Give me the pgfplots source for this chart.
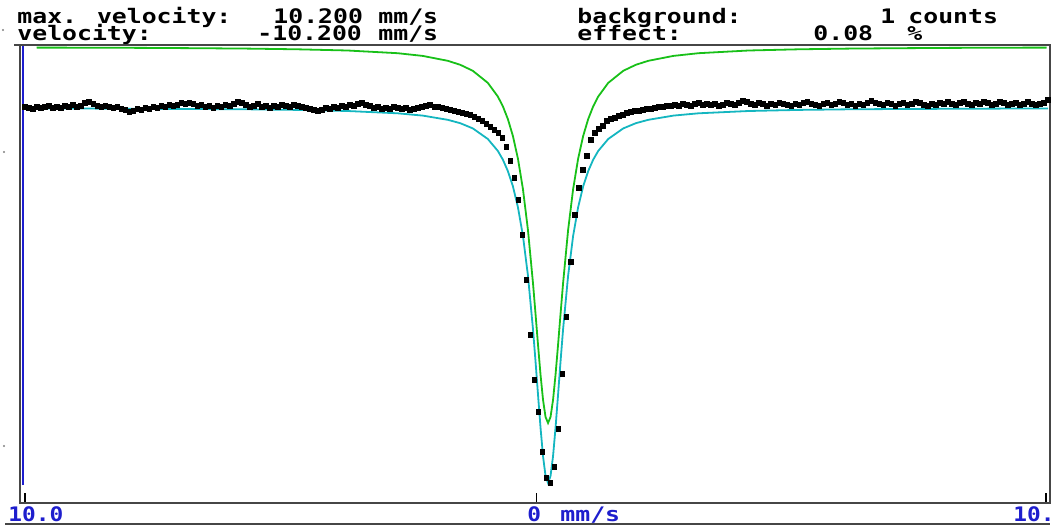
\documentclass[border=0pt]{standalone}
\usepackage{fontspec}
\usepackage{pgfplots}
\usepackage{pgfplotstable}
\pgfplotsset{compat=1.18}
\newfontfamily\pix{DejaVu Sans Mono}[FakeStretch=1.24]
\newfontfamily\pixb{DejaVu Sans Mono}[FakeStretch=1.14]
\definecolor{fitcyan}{RGB}{20,182,192}
\definecolor{fitgreen}{RGB}{24,192,24}
\definecolor{lblue}{RGB}{30,30,205}
\definecolor{frame}{RGB}{70,70,70}

%% counts per channel, 256 channels from -10.2 to 10.2 mm/s
\pgfplotstableread[row sep=\\]{
cnt\\
396\\ 395\\ 394\\ 396\\ 395\\ 396\\ 397\\ 395\\ 396\\ 395\\ 397\\ 396\\ 398\\ 396\\ 397\\ 400\\
401\\ 399\\ 397\\ 396\\ 397\\ 396\\ 395\\ 396\\ 394\\ 393\\ 391\\ 392\\ 394\\ 393\\ 395\\ 394\\
396\\ 395\\ 397\\ 396\\ 398\\ 397\\ 398\\ 400\\ 399\\ 400\\ 399\\ 397\\ 398\\ 396\\ 397\\ 395\\
397\\ 396\\ 398\\ 397\\ 399\\ 401\\ 400\\ 398\\ 396\\ 397\\ 399\\ 396\\ 397\\ 395\\ 397\\ 396\\
398\\ 397\\ 396\\ 398\\ 397\\ 396\\ 395\\ 394\\ 393\\ 392\\ 393\\ 395\\ 394\\ 396\\ 395\\ 397\\
396\\ 398\\ 397\\ 399\\ 400\\ 398\\ 397\\ 395\\ 396\\ 394\\ 395\\ 394\\ 396\\ 395\\ 394\\ 395\\
393\\ 394\\ 395\\ 396\\ 397\\ 398\\ 396\\ 396\\ 395\\ 394\\ 393\\ 392\\ 391\\ 390\\ 389\\ 388\\
386\\ 384\\ 382\\ 379\\ 376\\ 373\\ 370\\ 365\\ 356\\ 342\\ 325\\ 303\\ 268\\ 223\\ 168\\ 123\\
91\\ 51\\ 25\\ 20\\ 36\\ 74\\ 129\\ 186\\ 241\\ 288\\ 315\\ 333\\ 347\\ 363\\ 370\\ 374\\
377\\ 382\\ 384\\ 385\\ 387\\ 388\\ 390\\ 391\\ 392\\ 392\\ 393\\ 394\\ 394\\ 395\\ 396\\ 396\\
397\\ 397\\ 398\\ 397\\ 399\\ 398\\ 397\\ 399\\ 400\\ 398\\ 399\\ 398\\ 399\\ 397\\ 398\\ 400\\
399\\ 398\\ 400\\ 402\\ 401\\ 399\\ 398\\ 400\\ 399\\ 397\\ 399\\ 398\\ 400\\ 399\\ 398\\ 397\\
399\\ 398\\ 400\\ 401\\ 399\\ 398\\ 397\\ 399\\ 400\\ 398\\ 399\\ 401\\ 400\\ 398\\ 399\\ 397\\
399\\ 398\\ 400\\ 402\\ 400\\ 399\\ 398\\ 400\\ 399\\ 397\\ 399\\ 400\\ 398\\ 399\\ 401\\ 400\\
398\\ 397\\ 399\\ 398\\ 400\\ 399\\ 401\\ 399\\ 398\\ 400\\ 401\\ 399\\ 398\\ 400\\ 399\\ 401\\
400\\ 398\\ 399\\ 401\\ 400\\ 398\\ 399\\ 400\\ 398\\ 399\\ 401\\ 399\\ 398\\ 399\\ 400\\ 403\\
}\spectrum

\begin{document}
\begin{tikzpicture}
\begin{axis}[
  scale only axis, width=515pt, height=229pt,
  xmin=-10.2997, xmax=10.2399, ymin=0, ymax=458,
  axis line style={draw=frame, line width=1pt},
  xtick={-10.2,0,10.16}, xticklabels={}, ytick=\empty,
  xtick pos=bottom, tick align=inside, major tick length=5pt,
  tick style={black, line width=0.8pt},
]
\addplot[only marks, mark=square*, mark size=1.15pt, black]
  table[x expr={-10.2+0.08*\coordindex}, y=cnt]{\spectrum};
% fitted spectrum
\addplot[fitcyan, line width=0.9pt] coordinates {
  (-10.20,394.5) (-8.77,394.4) (-7.77,394.2) (-6.77,394.0) (-5.77,393.7)
  (-4.77,393.1) (-3.77,392.0) (-2.77,389.7) (-2.27,387.4) (-1.77,383.2)
  (-1.52,379.8) (-1.27,374.6) (-0.97,364.0) (-0.77,352.0) (-0.67,343.3)
  (-0.57,331.8) (-0.47,316.6) (-0.37,295.7) (-0.27,267.0) (-0.17,227.2)
  (-0.07,173.7) (-0.02,142.0) (0.03,108.4) (0.08,75.5) (0.13,46.9)
  (0.18,27.1) (0.23,20.0) (0.28,27.1) (0.33,46.9) (0.38,75.5)
  (0.43,108.4) (0.48,142.0) (0.53,173.7) (0.63,227.2) (0.73,267.0)
  (0.83,295.7) (0.93,316.6) (1.03,331.8) (1.13,343.3) (1.23,352.0)
  (1.43,364.0) (1.73,374.6) (1.98,379.8) (2.23,383.2) (2.73,387.4)
  (3.23,389.7) (4.23,392.0) (5.23,393.1) (6.23,393.7) (7.23,394.0)
  (8.23,394.2) (9.23,394.4) (10.20,394.5)
};
% single line component
\addplot[fitgreen, line width=0.9pt] coordinates {
  (-9.97,455.4) (-8.77,455.3) (-7.77,455.1) (-6.77,454.8) (-5.77,454.4)
  (-4.77,453.7) (-3.77,452.5) (-2.77,449.8) (-2.27,447.1) (-1.77,442.2)
  (-1.52,438.2) (-1.27,432.2) (-0.97,420.1) (-0.77,406.4) (-0.67,396.6)
  (-0.57,383.8) (-0.47,366.9) (-0.37,344.3) (-0.27,313.8) (-0.17,272.8)
  (-0.07,219.8) (-0.02,189.5) (0.03,158.3) (0.08,128.5) (0.13,103.2)
  (0.18,86.1) (0.23,80.0) (0.28,86.1) (0.33,103.2) (0.38,128.5)
  (0.43,158.3) (0.48,189.5) (0.53,219.8) (0.63,272.8) (0.73,313.8)
  (0.83,344.3) (0.93,366.9) (1.03,383.8) (1.13,396.6) (1.23,406.4)
  (1.43,420.1) (1.73,432.2) (1.98,438.2) (2.23,442.2) (2.73,447.1)
  (3.23,449.8) (4.23,452.5) (5.23,453.7) (6.23,454.4) (7.23,454.8)
  (8.23,455.1) (9.23,455.3) (10.17,455.4)
};
\draw[lblue, line width=1pt] (axis cs:-10.23,18) -- (axis cs:-10.23,457);
\coordinate (bl) at (rel axis cs:0,0);
\coordinate (tl) at (rel axis cs:0,1);
\coordinate (tr) at (rel axis cs:1,1);
\coordinate (br) at (rel axis cs:1,0);
\end{axis}

% header and footer rules
\draw[frame, line width=1.2pt] (tl) -- ([xshift=-3pt]tl);
\draw[frame, line width=1pt] ([shift={(-7.5pt,-10.5pt)}]bl) -- ([yshift=-10.5pt]br);
\fill[gray] ([shift={(-8.5pt,236.5pt)}]bl) circle (0.6pt);
\fill[gray] ([shift={(-8pt,175.5pt)}]bl) circle (0.6pt);
\fill[gray] ([shift={(-8pt,28.5pt)}]bl) circle (0.6pt);

\begin{scope}[every node/.style={inner sep=0pt, anchor=base west,
    font=\pix\bfseries\fontsize{10}{10}\selectfont}]
\node at ([shift={(-1.5pt,10.75pt)}]tl) {max. velocity:};
\node at ([shift={(126.5pt,10.75pt)}]tl) {10.200};
\node at ([shift={(179pt,10.75pt)}]tl) {mm/s};
\node at ([shift={(278.5pt,10.75pt)}]tl) {background:};
\node at ([shift={(430pt,10.75pt)}]tl) {1};
\node at ([shift={(444pt,10.75pt)}]tl) {counts};
\node at ([shift={(-1.5pt,2pt)}]tl) {velocity:};
\node at ([shift={(118.5pt,2pt)}]tl) {-10.200};
\node at ([shift={(179pt,2pt)}]tl) {mm/s};
\node at ([shift={(278.5pt,2pt)}]tl) {effect:};
\node at ([shift={(396.5pt,2pt)}]tl) {0.08};
\node at ([shift={(443.5pt,2pt)}]tl) {\%};
\node[text=lblue, font=\pixb\bfseries\fontsize{10}{10}\selectfont] at ([shift={(-6pt,-9pt)}]bl) {10.0};
\node[text=lblue, font=\pixb\bfseries\fontsize{10}{10}\selectfont] at ([shift={(253.5pt,-9pt)}]bl) {0};
\node[text=lblue] at ([shift={(270pt,-9pt)}]bl) {mm/s};
\node[text=lblue, font=\pixb\bfseries\fontsize{10}{10}\selectfont] at ([shift={(496.5pt,-9pt)}]bl) {10.};
\end{scope}

\pgfresetboundingbox
\path[use as bounding box] ([shift={(-10pt,-13.5pt)}]bl) rectangle ([shift={(2.5pt,22.5pt)}]tr);
\end{tikzpicture}
\end{document}
